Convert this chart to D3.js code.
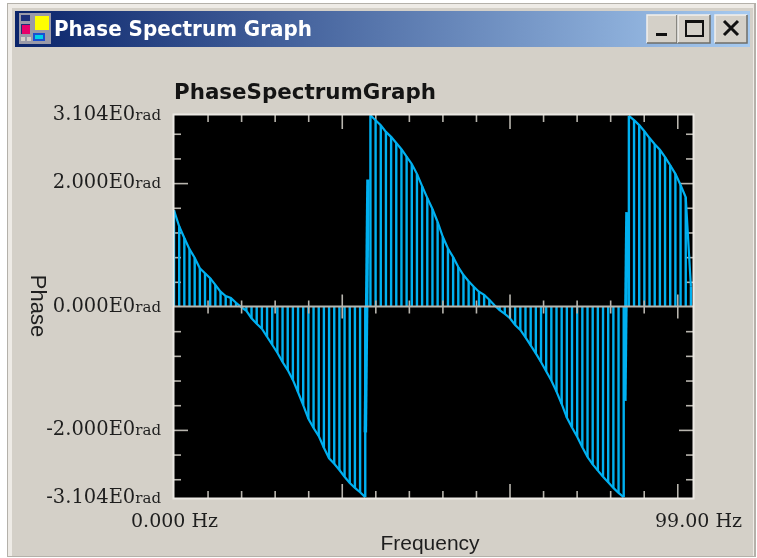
<!DOCTYPE html>
<html>
<head>
<meta charset="utf-8">
<title>Phase Spectrum Graph</title>
<script src="https://cdn.jsdelivr.net/npm/d3@7"></script>
<style>
    html, body { margin: 0; padding: 0; background: #fff; overflow: hidden; }
    svg { display: block; filter: blur(0.6px); }
    .serif { font-family: "DejaVu Serif", serif; fill: #1e1e1e; }
    .sans { font-family: "Liberation Sans", sans-serif; fill: #1e1e1e; }
</style>
</head>
<body>
<div id="chart"></div>
<script>
// frequency of each stem (Hz)
const freqs = [
    0, 0.986, 1.972, 2.958, 3.944, 4.93, 5.916, 6.902, 7.888, 8.874,
    9.86, 10.846, 11.832, 12.818, 13.804, 14.79, 15.776, 16.762, 17.748, 18.734,
    19.72, 20.706, 21.692, 22.678, 23.664, 24.65, 25.636, 26.622, 27.608, 28.594,
    29.58, 30.566, 31.552, 32.538, 33.524, 34.51, 35.496, 36.482, 37.468, 38.454,
    39.44, 40.426, 41.412, 42.398, 43.384, 44.37, 45.356, 46.342, 47.328, 48.314,
    49.3, 50.286, 51.272, 52.258, 53.244, 54.23, 55.216, 56.202, 57.188, 58.174,
    59.16, 60.146, 61.132, 62.118, 63.104, 64.09, 65.076, 66.062, 67.048, 68.034,
    69.02, 70.006, 70.992, 71.978, 72.964, 73.95, 74.936, 75.922, 76.908, 77.894,
    78.88, 79.866, 80.852, 81.838, 82.824, 83.81, 84.796, 85.782, 86.768, 87.754,
    88.74, 89.726, 90.712, 91.698, 92.684, 93.67, 94.656, 95.642, 96.628, 97.614,
    98.6
];

// phase of each stem (rad)
const phases = [
    1.56, 1.30, 1.11, 0.93, 0.79, 0.62, 0.54, 0.46, 0.35, 0.24,
    0.17, 0.14, 0.06, -0.01, -0.07, -0.19, -0.28, -0.36, -0.49, -0.62,
    -0.75, -0.90, -1.03, -1.19, -1.39, -1.60, -1.82, -1.97, -2.10, -2.29,
    -2.46, -2.55, -2.65, -2.76, -2.86, -2.94, -3.01, -3.09,
    3.10, 3.02, 2.94, 2.83, 2.75, 2.65, 2.55, 2.43, 2.31, 2.15,
    1.95, 1.76, 1.58, 1.37, 1.13, 0.94, 0.80, 0.64, 0.51, 0.41,
    0.32, 0.24, 0.19, 0.11, 0.02, -0.06, -0.12, -0.19, -0.30, -0.38,
    -0.50, -0.63, -0.76, -0.90, -1.05, -1.20, -1.38, -1.58, -1.80, -1.96,
    -2.11, -2.28, -2.44, -2.56, -2.66, -2.76, -2.85, -2.94, -3.02, -3.09,
    3.09, 3.02, 2.94, 2.84, 2.73, 2.63, 2.54, 2.42, 2.29, 2.15,
    1.97, 1.77, 0.32
];

// curve breaks at the wrap points
const segmentStarts = [0, 38, 88];
const jumpFreqsTop = [37.0, 86.4];
const jumpFreqsBottom = [36.5, 86.0];
const jumpHigh = [2.06, 1.53];
const jumpLow = [-2.04, -1.53];

const xMinorTicks = [6.4, 12.8, 19.2, 25.6, 38.4, 44.8, 51.2, 57.6, 70.4, 76.8, 83.2, 89.6];
const xMajorTicks = [32, 64, 96];
const yMinorTicks = [2.8, 2.4, 1.6, 1.2, 0.8, 0.4, -0.4, -0.8, -1.2, -1.6, -2.4, -2.8];
const yMajorTicks = [2, -2];

const yLabelValues = [3.104, 2, 0, -2, -3.104];
const yLabels = ['3.104E0', '2.000E0', '0.000E0', '-2.000E0', '-3.104E0'];
const xLabelValues = [0, 99];
const xLabels = ['0.000 Hz', '99.00 Hz'];

const W = 757, H = 558;
const margin = { top: 115, right: 64, bottom: 60, left: 174 };
const plotW = W - margin.left - margin.right;
const plotH = H - margin.top - margin.bottom;
const STEM = '#00b0f0', AXIS = '#b8b5ae', FRAME = '#ece9e4';

const svg = d3.select('#chart').append('svg').attr('width', W).attr('height', H);

// ---- window chrome ----
const grad = svg.append('defs').append('linearGradient').attr('id', 'titlebar');
grad.append('stop').attr('offset', '0%').attr('stop-color', '#0a246a');
grad.append('stop').attr('offset', '100%').attr('stop-color', '#a6caf0');

svg.append('rect').attr('x', 7).attr('y', 3).attr('width', 749).attr('height', 554).attr('fill', '#b4b1aa');
svg.append('rect').attr('x', 8).attr('y', 4).attr('width', 746).attr('height', 552).attr('fill', '#eeebe6');
svg.append('rect').attr('x', 12).attr('y', 8).attr('width', 741).attr('height', 548).attr('fill', '#d4d0c8');
svg.append('rect').attr('x', 15).attr('y', 11).attr('width', 735).attr('height', 36).attr('fill', 'url(#titlebar)');

svg.append('text')
    .attr('x', 54).attr('y', 36)
    .attr('fill', '#fff')
    .style('font-family', '"DejaVu Sans", sans-serif')
    .style('font-weight', 'bold')
    .style('font-size', '21px')
    .attr('textLength', 258)
    .attr('lengthAdjust', 'spacingAndGlyphs')
    .text('Phase Spectrum Graph');

// title bar icon
const icon = svg.append('g');
[
    [19, 13, 32, 31, '#9a9aa8'], [21, 15, 9, 6, '#1c2f78'], [21, 24, 9, 10, '#1c2f78'],
    [22, 25, 8, 9, '#e8006a'], [35, 16, 14, 14, '#ffff00'], [33, 33, 12, 8, '#1a4fd0'],
    [35, 35, 8, 4, '#00d0e8'], [21, 37, 4, 4, '#d4d0c8'], [27, 37, 4, 4, '#d4d0c8']
].forEach(r => {
    icon.append('rect').attr('x', r[0]).attr('y', r[1]).attr('width', r[2]).attr('height', r[3]).attr('fill', r[4]);
});

// title bar buttons
[[647, 30], [678, 32], [715, 32]].forEach(b => {
    svg.append('rect').attr('x', b[0]).attr('y', 15).attr('width', b[1]).attr('height', 28).attr('fill', '#d4d0c8');
    svg.append('path').attr('d', `M${b[0]},43V15H${b[0] + b[1]}`).attr('fill', 'none').attr('stroke', '#f2f0ec').attr('stroke-width', 1.5);
    svg.append('path').attr('d', `M${b[0]},43H${b[0] + b[1]}V15`).attr('fill', 'none').attr('stroke', '#6f6d68').attr('stroke-width', 1.5);
});
svg.append('rect').attr('x', 656).attr('y', 33).attr('width', 11).attr('height', 3).attr('fill', '#111');
svg.append('rect').attr('x', 686).attr('y', 21).attr('width', 17).attr('height', 15).attr('fill', 'none').attr('stroke', '#111').attr('stroke-width', 2);
svg.append('rect').attr('x', 686).attr('y', 20).attr('width', 17).attr('height', 3).attr('fill', '#111');
svg.append('path').attr('d', 'M724,21L738,35M738,21L724,35').attr('stroke', '#111').attr('stroke-width', 3);

// ---- chart ----
const g = svg.append('g').attr('transform', `translate(${margin.left},${margin.top})`);

const xScale = d3.scaleLinear().domain([0, 99]).range([0, plotW]);
const yScale = d3.scaleLinear().domain([-3.104, 3.104]).range([plotH, 0]);

g.append('rect').attr('width', plotW).attr('height', plotH).attr('fill', '#000');

// ticks: each edge gets its own axis, the zero line gets ticks both ways
function ticks(axis, values, size, x, y) {
    const t = g.append('g')
        .attr('transform', `translate(${x},${y})`)
        .call(axis.tickValues(values).tickSize(size).tickFormat(''));
    t.select('.domain').remove();
    t.selectAll('line').attr('stroke', AXIS).attr('stroke-width', 1.6);
}

ticks(d3.axisBottom(xScale), xMinorTicks, 7, 0, 0);
ticks(d3.axisBottom(xScale), xMajorTicks, 14, 0, 0);
ticks(d3.axisTop(xScale), xMinorTicks, 7, 0, plotH);
ticks(d3.axisTop(xScale), xMajorTicks, 14, 0, plotH);
ticks(d3.axisRight(yScale), yMinorTicks, 7, 0, 0);
ticks(d3.axisRight(yScale), yMajorTicks, 14, 0, 0);
ticks(d3.axisLeft(yScale), yMinorTicks, 7, plotW, 0);
ticks(d3.axisLeft(yScale), yMajorTicks, 14, plotW, 0);

// stems
g.selectAll('.stem')
    .data(freqs)
    .enter()
    .append('line')
    .attr('class', 'stem')
    .attr('x1', d => xScale(d))
    .attr('x2', d => xScale(d))
    .attr('y1', yScale(0))
    .attr('y2', (d, i) => yScale(phases[i]))
    .attr('stroke', STEM)
    .attr('stroke-width', 2.4);

// wrap point bars
g.selectAll('.jump')
    .data(jumpFreqsTop)
    .enter()
    .append('line')
    .attr('class', 'jump')
    .attr('x1', d => xScale(d))
    .attr('x2', (d, i) => xScale(jumpFreqsBottom[i]))
    .attr('y1', (d, i) => yScale(jumpHigh[i]))
    .attr('y2', (d, i) => yScale(jumpLow[i]))
    .attr('stroke', STEM)
    .attr('stroke-width', 3.5);

// curve, one path per branch
const line = d3.line().x(d => xScale(d[0])).y(d => yScale(d[1]));
const points = freqs.map((f, i) => [f, phases[i]]);
segmentStarts.forEach((start, i) => {
    g.append('path')
        .attr('d', line(points.slice(start, segmentStarts[i + 1])))
        .attr('fill', 'none')
        .attr('stroke', STEM)
        .attr('stroke-width', 2.2);
});

ticks(d3.axisBottom(xScale), xMinorTicks, 7, 0, yScale(0));
ticks(d3.axisTop(xScale), xMinorTicks, 6, 0, yScale(0));
ticks(d3.axisBottom(xScale), xMajorTicks, 12, 0, yScale(0));
ticks(d3.axisTop(xScale), xMajorTicks, 12, 0, yScale(0));

g.append('line')
    .attr('x1', 0).attr('x2', plotW)
    .attr('y1', yScale(0)).attr('y2', yScale(0))
    .attr('stroke', AXIS)
    .attr('stroke-width', 2);

g.append('rect')
    .attr('x', -0.5).attr('y', -0.5)
    .attr('width', plotW + 1).attr('height', plotH + 1)
    .attr('fill', 'none')
    .attr('stroke', FRAME)
    .attr('stroke-width', 2);

// tick labels
const yAxis = g.append('g')
    .attr('transform', 'translate(-13,0)')
    .call(d3.axisLeft(yScale).tickValues(yLabelValues).tickSize(0).tickPadding(0).tickFormat(''));
yAxis.select('.domain').remove();
yAxis.selectAll('.tick text')
    .attr('class', 'serif')
    .attr('dy', '0.48em')
    .each(function(d, i) {
        const label = d3.select(this);
        label.append('tspan').style('font-size', '19.5px').text(yLabels[i]);
        label.append('tspan').style('font-size', '15px').text('rad');
    });

const xAxis = g.append('g')
    .attr('transform', `translate(0,${plotH})`)
    .call(d3.axisBottom(xScale).tickValues(xLabelValues).tickSize(0).tickPadding(0).tickFormat((d, i) => xLabels[i]));
xAxis.select('.domain').remove();
xAxis.selectAll('.tick text')
    .attr('class', 'serif')
    .attr('y', 29)
    .attr('dy', 0)
    .attr('dx', (d, i) => i === 1 ? 5 : 0)
    .style('font-size', '19px');

// titles
g.append('text')
    .attr('x', 0).attr('y', -16)
    .attr('fill', '#141414')
    .style('font-family', '"DejaVu Sans", sans-serif')
    .style('font-size', '22px')
    .style('font-weight', 'bold')
    .attr('textLength', 262)
    .attr('lengthAdjust', 'spacingAndGlyphs')
    .text('PhaseSpectrumGraph');

g.append('text')
    .attr('class', 'sans')
    .attr('x', 256).attr('y', plotH + 52)
    .attr('text-anchor', 'middle')
    .style('font-size', '21px')
    .text('Frequency');

g.append('text')
    .attr('class', 'sans')
    .attr('transform', `translate(-143,${306 - margin.top}) rotate(90)`)
    .attr('text-anchor', 'middle')
    .style('font-size', '22px')
    .text('Phase');
</script>
</body>
</html>
